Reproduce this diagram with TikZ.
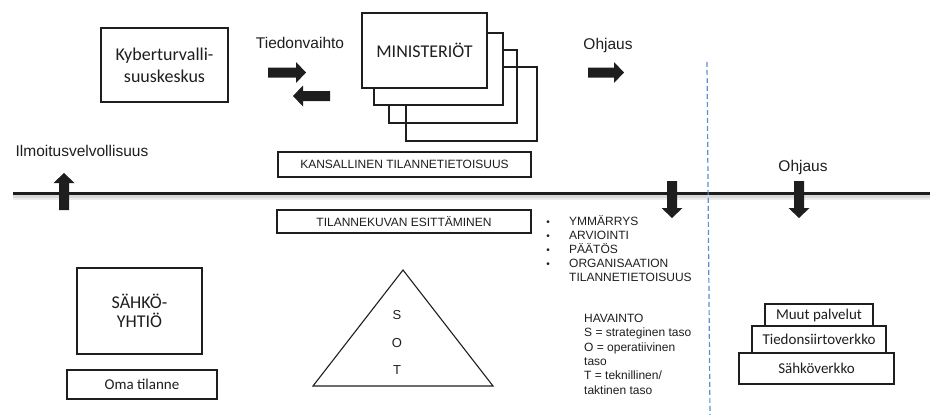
\documentclass[tikz,border=0pt]{standalone}
\usepackage{fontspec}
\setmainfont{Liberation Sans}
\newfontfamily\carl{Carlito}
\definecolor{ink}{HTML}{1E1E1E}
\definecolor{divider}{HTML}{5B8FD0}
\begin{document}
\begin{tikzpicture}[x=1pt,y=-1pt,
  every node/.style={text=ink, inner sep=0pt},
  box/.style={draw=ink, line width=1.1pt, fill=white},
  openbox/.style={draw=ink, line width=1.1pt},
  bigcal/.style={font=\carl\fontsize{18}{22}\selectfont, align=center},
  midcal/.style={font=\carl\fontsize{15}{18}\selectfont},
  label/.style={font=\fontsize{15.5}{18}\selectfont},
  small/.style={font=\fontsize{12}{14}\selectfont},
  pics/blockarrow/.style={code={
    \fill[ink] (0,-5) -- ({#1-10},-5) -- ({#1-10},-10.5) -- (#1,0)
      -- ({#1-10},10.5) -- ({#1-10},5) -- (0,5) -- cycle;}}
]
\useasboundingbox (0,0) rectangle (930,415);

% top row: cyber centre and ministries
\node[box, bigcal, minimum width=127pt, minimum height=74pt] (kyber) at (164.5,65)
  {Kyberturvalli-\\suuskeskus};
\node[label] (tiedon) at (300,43) {Tiedonvaihto};
\pic at (268,72.5) {blockarrow=38};
\pic[rotate=180] at (330,96) {blockarrow=37};

\node[openbox, minimum width=131pt, minimum height=74pt] (min4) at (471.5,104) {};
\node[openbox, minimum width=128pt, minimum height=73pt] (min3) at (453,86.5) {};
\node[box, minimum width=129pt, minimum height=72pt] (min2) at (438.5,69) {};
\node[box, font=\carl\fontsize{18}{22}\selectfont, minimum width=125pt, minimum height=75pt]
  (min1) at (424.5,50.5) {MINISTERIÖT};

\node[label] (ohjaus1) at (608,45) {Ohjaus};
\pic at (588,72.5) {blockarrow=36};

% national situational awareness
\node[label] (ilmo) at (82,151) {Ilmoitusvelvollisuus};
\node[box, small, minimum width=253pt, minimum height=25pt] (kans) at (404.5,164.5)
  {KANSALLINEN TILANNETIETOISUUS};
\node[label] (ohjaus2) at (803,167) {Ohjaus};

% main horizontal line with its soft shadow
\coordinate (lineL) at (13,193.5);
\coordinate (lineR) at (930,193.5);
\draw[black!30, line width=3pt, opacity=0.5] ([yshift=-2.5pt]lineL) -- ([yshift=-2.5pt]lineR);
\draw[black!15, line width=3pt, opacity=0.5] ([yshift=-4.5pt]lineL) -- ([yshift=-4.5pt]lineR);
\draw[ink, line width=3.5pt] (lineL) -- (lineR);

% sector divider
\coordinate (divTop) at (707,62);
\coordinate (divBot) at (710,415);
\draw[divider, line width=1.2pt, dash pattern=on 5pt off 3pt] (divTop) -- (divBot);

% vertical block arrows across the line
\pic[rotate=90] at (64,210) {blockarrow=37};
\pic[rotate=-90] at (672,181) {blockarrow=37};
\pic[rotate=-90] at (799,181) {blockarrow=37};

\node[box, small, minimum width=254pt, minimum height=23pt] (esit) at (404,221.5)
  {TILANNEKUVAN ESITTÄMINEN};

% bullet list
\foreach \t [count=\i, evaluate=\i as \yy using 225+14.1*(\i-1)] in
  {YMMÄRRYS, ARVIOINTI, PÄÄTÖS, ORGANISAATION}
{
  \node[small, anchor=base west] (bul\i) at (569,\yy) {\t};
  \node[font=\fontsize{10}{10}\selectfont, anchor=base] (dot\i) at (548,\yy) {•};
}
\node[small, anchor=base west] (bul5) at (569,281.5) {TILANNETIETOISUUS};

% levels legend
\foreach \t [count=\i, evaluate=\i as \yy using 322.5+14.3*(\i-1)] in
  {HAVAINTO, S = strateginen taso, O = operatiivinen, taso, T = teknillinen/, taktinen taso}
{
  \node[small, anchor=base west] (hav\i) at (584,\yy) {\t};
}

% electricity company
\node[box, bigcal, font=\carl\fontsize{18}{19}\selectfont, minimum width=125pt, minimum height=86pt]
  (sahko) at (139.5,311) {SÄHKÖ-\\YHTIÖ};
\node[box, midcal, minimum width=150pt, minimum height=29pt] (oma) at (142,384.5) {Oma tilanne};

% strategic / operative / tactical triangle
\coordinate (triTop) at (403,270);
\coordinate (triL) at (313,386);
\coordinate (triR) at (493,386);
\draw[ink, line width=1.1pt, line join=miter] (triTop) -- (triL) -- (triR) -- cycle;
\node[font=\fontsize{13}{14}\selectfont] (tS) at (397,315) {S};
\node[font=\fontsize{13}{14}\selectfont] (tO) at (397,343) {O};
\node[font=\fontsize{13}{14}\selectfont] (tT) at (397,370) {T};

% infrastructure stack
\node[box, midcal, minimum width=155pt, minimum height=31pt] (verkko) at (816.5,368.5) {Sähköverkko};
\node[box, midcal, minimum width=134pt, minimum height=27pt] (siirto) at (819,339.5) {Tiedonsiirtoverkko};
\node[box, midcal, minimum width=108pt, minimum height=22pt] (muut) at (819,315) {Muut palvelut};
\end{tikzpicture}
\end{document}
